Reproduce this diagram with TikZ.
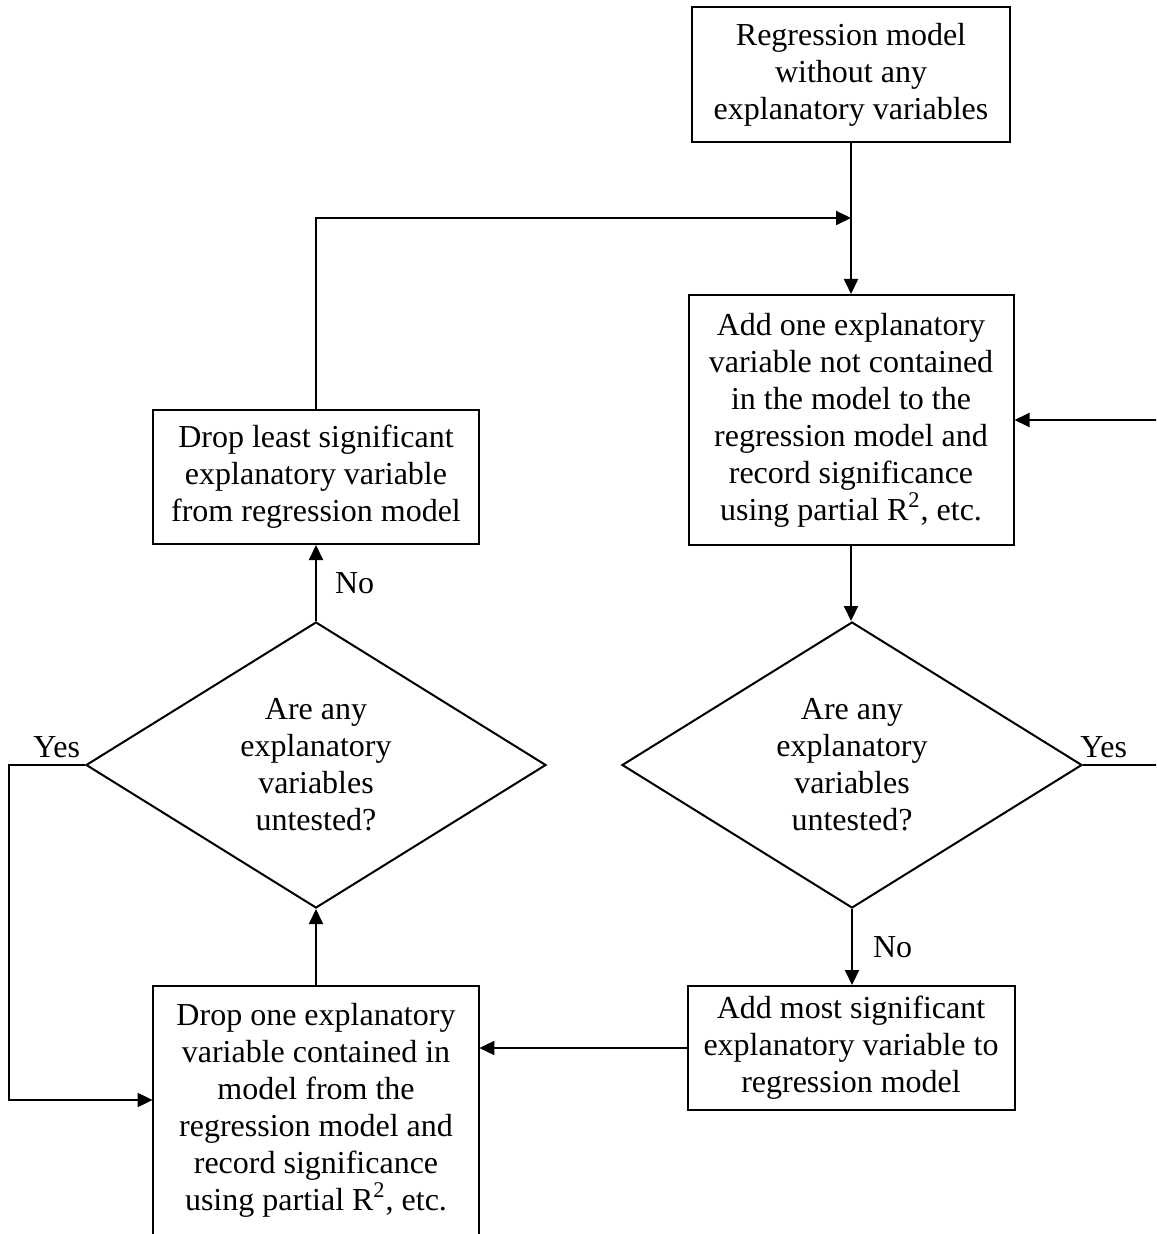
\documentclass[tikz,border=0pt]{standalone}
\usepackage{fontspec}
\setmainfont{Liberation Serif}
\usetikzlibrary{shapes.geometric,arrows.meta}
\begin{document}
\begin{tikzpicture}[x=0.5pt,y=-0.5pt,
  every node/.style={font=\fontsize{16}{18.5}\selectfont},
  box/.style={draw,line width=1pt,inner sep=0pt,align=center},
  textonly/.style={inner sep=0pt,align=center},
  decision/.style={draw,line width=1pt,diamond,inner sep=0pt,align=center,
    minimum width=230pt,minimum height=143pt},
  flow/.style={line width=1pt,-{Triangle[length=7.5pt,width=7pt]}},
  plain/.style={line width=1pt},
  lbl/.style={inner sep=0pt}]
\useasboundingbox (0,0) rectangle (1156,1234);
\clip (0,0) rectangle (1156,1234);

% right column: forward selection
\node[box,minimum width=159pt,minimum height=67.5pt] (start) at (851,74.5)
  {Regression model\\without any\\explanatory variables};
\node[box,minimum width=162.5pt,minimum height=125pt] (addone) at (851,420)
  {Add one explanatory\\variable not contained\\in the model to the\\regression model and\\record significance\\using partial R\textsuperscript{2}, etc.};
\node[decision] (rdia) at (852,765)
  {Are any\\explanatory\\variables\\untested?};
\node[box,minimum width=163.5pt,minimum height=62pt] (addmost) at (851,1048)
  {Add most significant\\explanatory variable to\\regression model};

% left column: backward elimination
\node[box,minimum width=163pt,minimum height=67pt] (droplst) at (316,477)
  {Drop least significant\\explanatory variable\\from regression model};
\node[decision] (ldia) at (316,765)
  {Are any\\explanatory\\variables\\untested?};
\node[textonly,minimum width=163pt,minimum height=124pt] (dropone) at (316,1110)
  {Drop one explanatory\\variable contained in\\model from the\\regression model and\\record significance\\using partial R\textsuperscript{2}, etc.};
% open-bottomed frame of the last box, running past the lower edge
\draw[plain] (dropone.south west) ++(0,40) |- (dropone.north east) -- ++(0,288);

% connectors
\coordinate (join) at (851,218);
\coordinate (lcorner) at (9,765);
\coordinate (lbottom) at (9,1100);
\draw[flow] (start.south) -- (addone.north);
\draw[flow] (droplst.north) |- (join);
\draw[flow] (addone.south) -- (addone.south |- rdia.north);
\draw[flow] (rdia.east) -- ++(80,0) |- (addone.east);
\draw[flow] (rdia.south) -- node[lbl,right=10pt] (rno) {No} (rdia.south |- addmost.north);
\draw[flow] (addmost.west) -- (addmost.west -| dropone.east);
\draw[flow] (dropone.north) -- (ldia.south);
\draw[flow] (ldia.north) -- node[lbl,right=9pt] (lno) {No} (droplst.south);
\draw[flow] (ldia.west) -- (lcorner) -- (lbottom) -- (lbottom -| dropone.west);

% branch labels
\node[lbl,anchor=base west] (ryes) at (1080,757) {Yes};
\node[lbl,anchor=base west] (lyes) at (33,757) {Yes};
\end{tikzpicture}
\end{document}
